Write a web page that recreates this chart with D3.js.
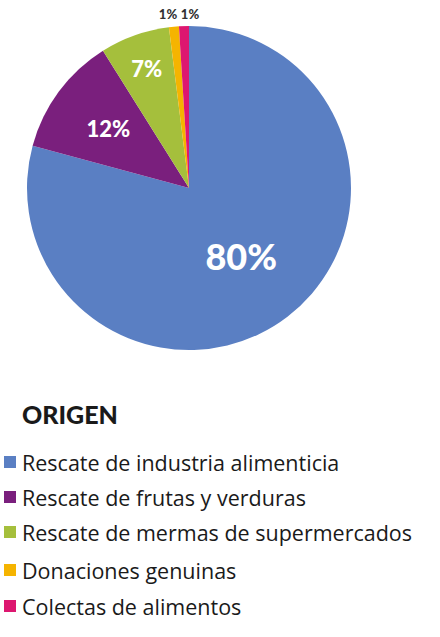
<!DOCTYPE html>
<html><head><meta charset="utf-8">
<script src="https://cdn.jsdelivr.net/npm/d3@7"></script>
<style>body{margin:0;background:#fff}</style></head>
<body><svg id="c" width="440" height="637"></svg>
<script>
const categories=["Rescate de industria alimenticia","Rescate de frutas y verduras","Rescate de mermas de supermercados","Donaciones genuinas","Colectas de alimentos"];
const values=[80,12,7,1,1];
const labels=["80%","12%","7%","1%","1%"];
const colors=["#5a7fc3","#7a1f7d","#a5bf3c","#f5b400","#dd1770"];
const svg=d3.select("#c");
const cx=189,cy=188,r=162;
const g=svg.append("g").attr("transform",`translate(${cx},${cy})`);
const arcs=d3.pie().sort(null)(values);
const arc=d3.arc().innerRadius(0).outerRadius(r);
g.selectAll("path").data(arcs).join("path").attr("d",arc).attr("fill",(d,i)=>colors[i]);
const lab=[{r:0.53,s:36,c:"#fff"},{r:0.62,s:22,c:"#fff"},{r:0.78,s:22,c:"#fff"},{r:1.1,s:13,c:"#333"},{r:1.1,s:13,c:"#333"}];
arcs.forEach((d,i)=>{
  let a=(d.startAngle+d.endAngle)/2, rr=r*lab[i].r;
  let x=Math.sin(a)*rr, y=-Math.cos(a)*rr;
  if(i>=3){x=i==3?-21:1;y=-174;}
  g.append("text").attr("x",x).attr("y",y).attr("text-anchor","middle").attr("dominant-baseline","central")
   .attr("font-family","Lato").attr("font-weight","900").attr("font-size",lab[i].s).attr("fill",lab[i].c).text(labels[i]);
});
svg.append("text").attr("x",22).attr("y",424).attr("font-family","Lato").attr("font-weight","900").attr("font-size",25).attr("fill","#1a1a1a").text("ORIGEN");
const ys=[462,497,532,570,606];
categories.forEach((c,i)=>{
  svg.append("rect").attr("x",4).attr("y",ys[i]-6).attr("width",12).attr("height",12).attr("fill",colors[i]);
  svg.append("text").attr("x",22).attr("y",ys[i]).attr("dominant-baseline","central").attr("font-family","Open Sans").attr("font-size",21.5).attr("fill","#1a1a1a").text(c);
});
</script></body></html>
